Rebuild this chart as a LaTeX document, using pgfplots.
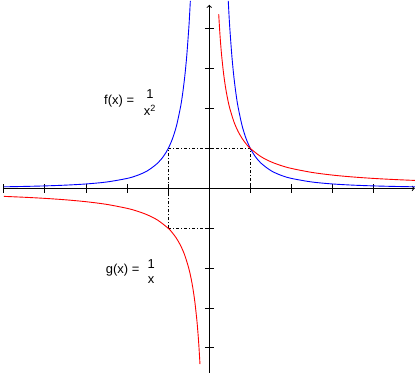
\documentclass[border=0pt]{standalone}
\usepackage{pgfplots}
\pgfplotsset{compat=1.18}
\usepackage{fontspec}
\setmainfont{Liberation Sans}
\begin{document}
\begin{tikzpicture}
\begin{axis}[
  scale only axis,
  width=411bp, height=367.9bp,
  xmin=-5, xmax=5, ymin=-4.62, ymax=4.6,
  axis lines=middle,
  axis line style={line width=1bp, black},
  x axis line style={->},
  y axis line style={->},
  xtick={-5,-4,-3,-2,-1,1,2,3,4},
  ytick={-4,-3,-2,-1,1,2,3,4},
  xticklabels={}, yticklabels={},
  tick align=center,
  major tick length=9bp,
  tick style={line width=1bp, black},
  clip=false,
  font=\fontsize{13}{15}\selectfont,
]
\path (axis cs:-5.093,-4.777) rectangle (axis cs:5.054,4.722);
% dash-dot guide lines
\addplot[black, line width=0.8bp, dash pattern=on 3bp off 2bp on 1bp off 2bp] coordinates {(-1,-1) (-1,1) (1,1) (1,0)};
\addplot[black, line width=0.8bp, dash pattern=on 3bp off 2bp on 1bp off 2bp] coordinates {(-1,-1) (0,-1)};
% f(x) = 1/x^2
\addplot[blue, line width=0.9bp, smooth] coordinates {
(-5,0.04) (-4.5,0.0494) (-4,0.0625) (-3.5,0.0816) (-3,0.1111) (-2.5,0.16) (-2,0.25) (-1.75,0.3265) (-1.5,0.4444) (-1.25,0.64) (-1.1,0.8264) (-1,1) (-0.9,1.2346) (-0.8,1.5625) (-0.7,2.0408) (-0.65,2.3669) (-0.6,2.7778) (-0.55,3.3058) (-0.5,4) (-0.48,4.3403) (-0.4613,4.70)};
\addplot[blue, line width=0.9bp, smooth] coordinates {
(0.4613,4.70) (0.48,4.3403) (0.5,4) (0.55,3.3058) (0.6,2.7778) (0.65,2.3669) (0.7,2.0408) (0.8,1.5625) (0.9,1.2346) (1,1) (1.1,0.8264) (1.25,0.64) (1.5,0.4444) (1.75,0.3265) (2,0.25) (2.5,0.16) (3,0.1111) (3.5,0.0816) (4,0.0625) (4.5,0.0494) (5,0.04)};
% g(x) = 1/x
\addplot[red, line width=0.9bp, smooth] coordinates {
(-5,-0.2) (-4.5,-0.2222) (-4,-0.25) (-3.5,-0.2857) (-3,-0.3333) (-2.5,-0.4) (-2,-0.5) (-1.75,-0.5714) (-1.5,-0.6667) (-1.25,-0.8) (-1,-1) (-0.9,-1.1111) (-0.8,-1.25) (-0.7,-1.4286) (-0.6,-1.6667) (-0.5,-2) (-0.45,-2.2222) (-0.4,-2.5) (-0.35,-2.8571) (-0.3,-3.3333) (-0.27,-3.7037) (-0.25,-4) (-0.227,-4.4053)};
\addplot[red, line width=0.9bp, smooth] coordinates {
(0.229,4.3668) (0.25,4) (0.27,3.7037) (0.3,3.3333) (0.35,2.8571) (0.4,2.5) (0.45,2.2222) (0.5,2) (0.6,1.6667) (0.7,1.4286) (0.8,1.25) (0.9,1.1111) (1,1) (1.25,0.8) (1.5,0.6667) (1.75,0.5714) (2,0.5) (2.5,0.4) (3,0.3333) (3.5,0.2857) (4,0.25) (4.5,0.2222) (5,0.2)};
% labels
\node[anchor=base west, inner sep=0pt] at (axis cs:-2.562,2.115) {f(x) =};
\node[anchor=base, inner sep=0pt] at (axis cs:-1.443,2.258) {1};
\node[anchor=base, inner sep=0pt] at (axis cs:-1.443,1.822) {x\textsuperscript{2}};
\node[anchor=base west, inner sep=0pt] at (axis cs:-2.521,-2.145) {g(x) =};
\node[anchor=base, inner sep=0pt] at (axis cs:-1.415,-2.02) {1};
\node[anchor=base, inner sep=0pt] at (axis cs:-1.415,-2.378) {x};
\end{axis}
\end{tikzpicture}
\end{document}
